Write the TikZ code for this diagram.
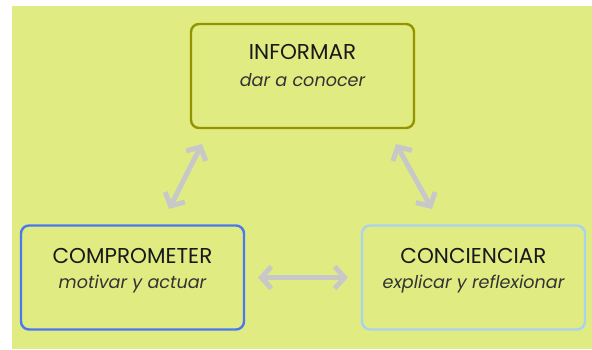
\documentclass[tikz,border=0pt]{standalone}
\usepackage{fontspec}
\setmainfont{Poppins}
\usetikzlibrary{arrows.meta}
\definecolor{bgyellow}{HTML}{E0EC82}
\definecolor{olivebd}{HTML}{959300}
\definecolor{bluebd}{HTML}{4B78F0}
\definecolor{skybd}{HTML}{A8D2EE}
\definecolor{arrowgray}{HTML}{C8C8C8}
\tikzset{
  card/.style={draw, line width=2.4pt, rounded corners=8pt, fill=bgyellow,
    minimum width=223pt, minimum height=104pt, anchor=center},
  cardtitle/.style={font=\fontsize{21.5}{23}\selectfont, text=black!90, inner sep=0pt},
  cardsub/.style={font=\fontsize{17.6}{19}\selectfont\itshape, text=black!80, inner sep=0pt},
  link/.style={draw=arrowgray, line width=5pt, line cap=round,
    {Straight Barb[length=10pt,width=22pt,line width=5pt]}-{Straight Barb[length=10pt,width=22pt,line width=5pt]}}
}
\begin{document}
\begin{tikzpicture}[x=1pt,y=-1pt]
\useasboundingbox (0,0) rectangle (592,349);
\fill[white] (0,0) rectangle (592,349);
\fill[bgyellow] (12,6) rectangle (592,349);

% three cards
\node[card, draw=olivebd] (inf) at (302.5,76) {};
\node[card, draw=bluebd] (comp) at (132.5,277.5) {};
\node[card, draw=skybd] (conc) at (473.5,277.5) {};

% labels
\node[cardtitle] (infT) at (302.5,52) {INFORMAR};
\node[cardsub] (infS) at (302.5,80) {dar a conocer};
\node[cardtitle] (compT) at (132.5,256) {COMPROMETER};
\node[cardsub] (compS) at (132.5,284) {motivar y actuar};
\node[cardtitle] (concT) at (473.5,256) {CONCIENCIAR};
\node[cardsub] (concS) at (473.5,284) {explicar y reflexionar};

% connector end points
\coordinate (a1) at (169,209);
\coordinate (a2) at (202,144);
\coordinate (b1) at (396,144);
\coordinate (b2) at (432,209);
\coordinate (c1) at (258,277.5);
\coordinate (c2) at (348,277.5);

\draw[link] (a1) -- (a2);
\draw[link] (b1) -- (b2);
\draw[link] (c1) -- (c2);
\end{tikzpicture}
\end{document}
